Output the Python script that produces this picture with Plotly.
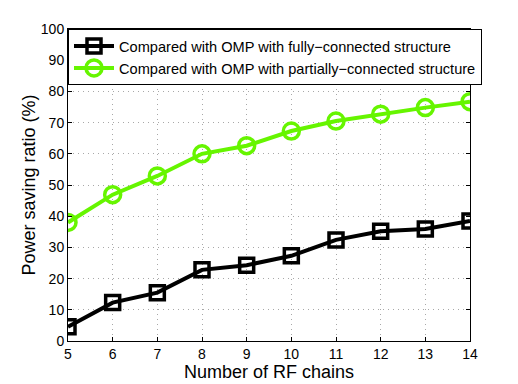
import plotly.graph_objects as go

rf_chains = [5, 6, 7, 8, 9, 10, 11, 12, 13, 14]
fully_connected = [4.6, 12.3, 15.5, 22.8, 24.3, 27.3, 32.4, 35.2, 35.9, 38.5]
partially_connected = [38.0, 46.9, 52.9, 60.0, 62.6, 67.3, 70.5, 72.7, 74.8, 76.7]
y_ticks = [0, 10, 20, 30, 40, 50, 60, 70, 80, 90, 100]

green = "#66F500"
fig = go.Figure()
fig.add_trace(go.Scatter(
    x=rf_chains, y=fully_connected, mode="lines+markers",
    name="Compared with OMP with fully\u2212connected structure",
    line=dict(color="black", width=4),
    marker=dict(symbol="square-open", size=14, color="black", line=dict(width=3.5)),
))
fig.add_trace(go.Scatter(
    x=rf_chains, y=partially_connected, mode="lines+markers",
    name="Compared with OMP with partially\u2212connected structure",
    line=dict(color=green, width=4),
    marker=dict(symbol="circle-open", size=16, color=green, line=dict(width=3.5)),
))

fam = "Liberation Sans, Arial, sans-serif"
font = dict(family=fam, size=15, color="black")
tickfont = dict(family=fam, size=14, color="black")
grid = dict(showgrid=True, gridcolor="#a8a8a8", griddash="1px,4px", gridwidth=1)
fig.update_layout(
    width=518, height=384,
    margin=dict(l=68, r=48, t=29, b=43, autoexpand=False),
    paper_bgcolor="white", plot_bgcolor="white",
    font=font,
    showlegend=True,
    legend=dict(x=0, y=1, xanchor="left", yanchor="top",
                bgcolor="white", bordercolor="black", borderwidth=1,
                font=dict(family=fam, size=14.6, color="black"),
                tracegroupgap=0, itemwidth=40),
    xaxis=dict(range=[5, 14], tickvals=rf_chains, **grid,
               showline=True, linecolor="black", linewidth=1, mirror="ticks",
               ticks="inside", ticklen=4, tickcolor="black", tickfont=tickfont,
               title=dict(text="Number of RF chains", standoff=0),
               zeroline=False, automargin=False),
    yaxis=dict(range=[0, 100], tickvals=y_ticks, **grid,
               showline=True, linecolor="black", linewidth=1, mirror="ticks",
               ticks="inside", ticklen=4, tickcolor="black", tickfont=tickfont,
               title=dict(text="Power saving ratio (%)", standoff=0),
               zeroline=False, automargin=False),
)
fig.write_html("out.html", config={"displayModeBar": False},
               post_script="document.body.style.margin='0px';document.body.style.overflow='hidden';")
